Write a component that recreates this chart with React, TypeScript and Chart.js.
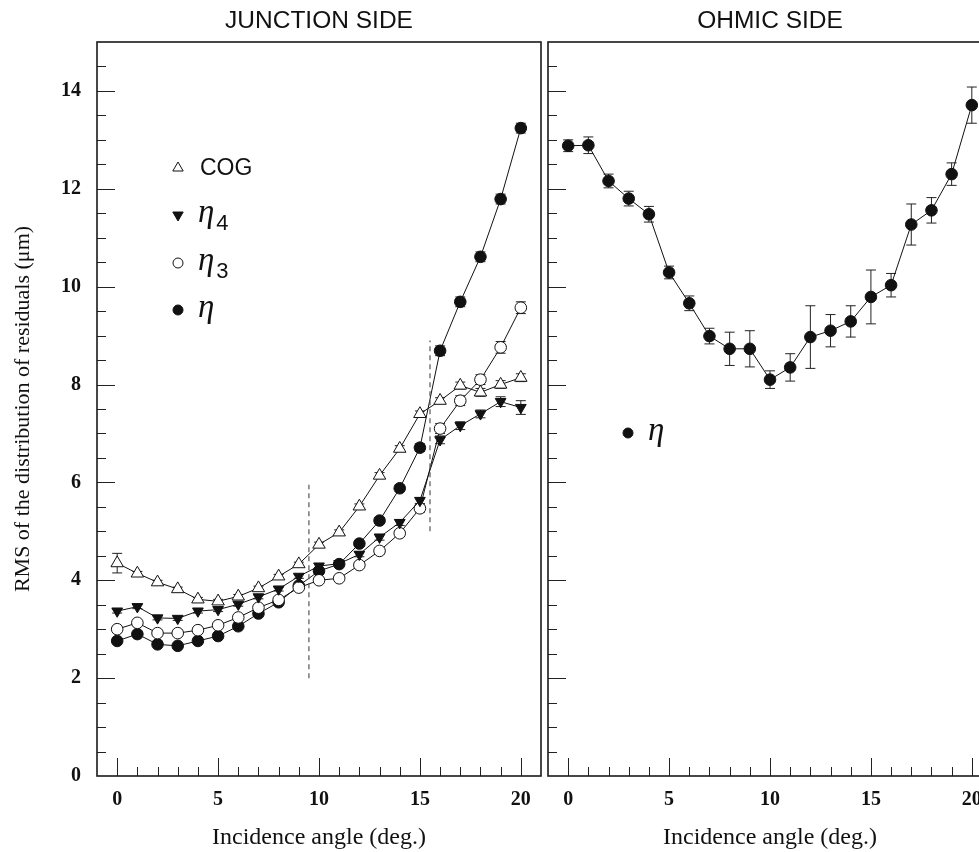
import React, { useEffect, useRef } from "react";
import { Chart, registerables } from "chart.js";

Chart.register(...registerables);

// ---------- data ----------
const angles = [0, 1, 2, 3, 4, 5, 6, 7, 8, 9, 10, 11, 12, 13, 14, 15, 16, 17, 18, 19, 20];

// Junction side
const cogRms = [4.35, 4.14, 3.96, 3.82, 3.61, 3.57, 3.67, 3.84, 4.08, 4.33, 4.73, 4.98, 5.51, 6.14, 6.69, 7.40, 7.67, 7.98, 7.84, 8.00, 8.14];
const cogErr = [0.2, 0.04, 0.04, 0.04, 0.04, 0.04, 0.04, 0.04, 0.04, 0.04, 0.05, 0.05, 0.05, 0.06, 0.06, 0.06, 0.06, 0.07, 0.08, 0.08, 0.08];
const eta4Rms = [3.37, 3.46, 3.23, 3.22, 3.37, 3.40, 3.51, 3.66, 3.82, 4.08, 4.29, 4.34, 4.53, 4.88, 5.18, 5.63, 6.87, 7.16, 7.40, 7.65, 7.53];
const eta4Err = [0.04, 0.04, 0.04, 0.04, 0.04, 0.04, 0.04, 0.04, 0.04, 0.04, 0.05, 0.05, 0.05, 0.06, 0.06, 0.06, 0.08, 0.08, 0.08, 0.1, 0.14];
const eta3Rms = [3.0, 3.13, 2.92, 2.92, 2.98, 3.08, 3.24, 3.44, 3.60, 3.85, 4.00, 4.04, 4.31, 4.60, 4.96, 5.47, 7.10, 7.67, 8.10, 8.76, 9.57];
const eta3Err = [0.04, 0.04, 0.04, 0.04, 0.04, 0.04, 0.04, 0.04, 0.04, 0.04, 0.05, 0.05, 0.05, 0.06, 0.06, 0.08, 0.1, 0.1, 0.1, 0.12, 0.12];
const etaRms = [2.76, 2.90, 2.69, 2.66, 2.76, 2.86, 3.06, 3.32, 3.55, 3.89, 4.19, 4.33, 4.75, 5.22, 5.88, 6.71, 8.69, 9.69, 10.61, 11.79, 13.24];
const etaErr = [0.04, 0.04, 0.04, 0.04, 0.04, 0.04, 0.04, 0.04, 0.04, 0.04, 0.05, 0.05, 0.05, 0.06, 0.06, 0.08, 0.1, 0.1, 0.1, 0.1, 0.1];

// Ohmic side
const ohmicEtaRms = [12.88, 12.89, 12.16, 11.80, 11.48, 10.29, 9.66, 8.99, 8.73, 8.73, 8.10, 8.35, 8.97, 9.10, 9.29, 9.79, 10.03, 11.27, 11.56, 12.30, 13.71];
const ohmicEtaErr = [0.12, 0.17, 0.14, 0.15, 0.16, 0.13, 0.15, 0.16, 0.34, 0.37, 0.18, 0.28, 0.64, 0.33, 0.32, 0.55, 0.24, 0.42, 0.26, 0.23, 0.37];

// Dashed region separators (junction side)
const cutLineA = [{ x: 9.5, y: 2.0 }, { x: 9.5, y: 5.95 }];
const cutLineB = [{ x: 15.5, y: 5.0 }, { x: 15.5, y: 8.9 }];

// Axes
const xRange = [-1, 21];
const yRange = [0, 15];
const xTickValues = [0, 5, 10, 15, 20];
const yTickValues = [0, 2, 4, 6, 8, 10, 12, 14];
const xMinorStep = 1;
const yMinorStep = 0.5;

const panelTitles = ["JUNCTION SIDE", "OHMIC SIDE"];
const xTitle = "Incidence angle (deg.)";
const yTitle = "RMS of the distribution of residuals (μm)";

// ---------- helpers ----------
const pts = (vals: number[]) => angles.map((a, i) => ({ x: a, y: vals[i] }));

const INK = "#111";

function drawMarker(ctx: CanvasRenderingContext2D, kind: string, x: number, y: number, r: number) {
  ctx.save();
  ctx.lineWidth = 1;
  ctx.strokeStyle = INK;
  ctx.beginPath();
  if (kind === "triOpen" || kind === "triDown") {
    const dir = kind === "triDown" ? -1 : 1;
    for (let k = 0; k < 3; k++) {
      const ang = (k * 2 * Math.PI) / 3;
      const px = x + Math.sin(ang) * r;
      const py = y - dir * Math.cos(ang) * r;
      if (k === 0) ctx.moveTo(px, py);
      else ctx.lineTo(px, py);
    }
    ctx.closePath();
  } else {
    ctx.arc(x, y, r, 0, Math.PI * 2);
  }
  ctx.fillStyle = kind === "triOpen" || kind === "circOpen" ? "#fff" : INK;
  ctx.fill();
  ctx.stroke();
  ctx.restore();
}

const errorBarPlugin = {
  id: "errorBars",
  beforeDatasetsDraw(chart: any) {
    const { ctx } = chart;
    const xs = chart.scales.x;
    const ys = chart.scales.y;
    chart.data.datasets.forEach((ds: any) => {
      const errs: number[] | undefined = ds.errors;
      if (!errs) return;
      ctx.save();
      ctx.strokeStyle = "#222";
      ctx.lineWidth = 1;
      ds.data.forEach((p: any, j: number) => {
        const e = errs[j];
        if (!e) return;
        const px = xs.getPixelForValue(p.x);
        const top = ys.getPixelForValue(p.y + e);
        const bot = ys.getPixelForValue(p.y - e);
        ctx.beginPath();
        ctx.moveTo(px, top);
        ctx.lineTo(px, bot);
        ctx.moveTo(px - 5, top);
        ctx.lineTo(px + 5, top);
        ctx.moveTo(px - 5, bot);
        ctx.lineTo(px + 5, bot);
        ctx.stroke();
      });
      ctx.restore();
    });
  },
};

const frameTicksPlugin = {
  id: "frameTicks",
  afterDraw(chart: any) {
    const { ctx, chartArea: a } = chart;
    const xs = chart.scales.x;
    const ys = chart.scales.y;
    ctx.save();
    ctx.strokeStyle = "#222";
    ctx.lineWidth = 1;
    const xFirst = xTickValues[0];
    const xLast = xTickValues[xTickValues.length - 1];
    const xMajor = xTickValues[1] - xTickValues[0];
    for (let v = xFirst; v <= xLast + 1e-9; v += xMinorStep) {
      const px = Math.round(xs.getPixelForValue(v)) + 0.5;
      const major = Math.abs(v / xMajor - Math.round(v / xMajor)) < 1e-6;
      const len = major ? 18 : 9;
      ctx.beginPath();
      ctx.moveTo(px, a.bottom);
      ctx.lineTo(px, a.bottom - len);
      ctx.stroke();
    }
    const yMajor = yTickValues[1] - yTickValues[0];
    for (let v = yRange[0] + yMinorStep; v < yRange[1] - 1e-9; v += yMinorStep) {
      const py = Math.round(ys.getPixelForValue(v)) + 0.5;
      const major = Math.abs(v / yMajor - Math.round(v / yMajor)) < 1e-6;
      const len = major ? 18 : 9;
      ctx.beginPath();
      ctx.moveTo(a.left, py);
      ctx.lineTo(a.left + len, py);
      ctx.stroke();
    }
    ctx.lineWidth = 1.6;
    ctx.strokeStyle = "#1a1a1a";
    ctx.strokeRect(a.left, a.top, a.right - a.left, a.bottom - a.top);
    ctx.restore();
  },
};

const markerLegendPlugin = {
  id: "markerLegend",
  afterDraw(chart: any, _args: any, opts: any) {
    const items = opts && opts.items;
    if (!items) return;
    const { ctx } = chart;
    items.forEach((it: any) => {
      drawMarker(ctx, it.marker, it.x, it.y, it.r);
      ctx.save();
      ctx.fillStyle = INK;
      ctx.textAlign = "left";
      if (it.greek) {
        ctx.font = 'italic 33px "Liberation Serif"';
        ctx.textBaseline = "alphabetic";
        ctx.fillText(it.label, it.x + 20, it.y + 7);
        const w = ctx.measureText(it.label).width;
        if (it.sub) {
          ctx.font = '22px "Liberation Sans"';
          ctx.fillText(it.sub, it.x + 22 + w, it.y + 15);
        }
      } else {
        ctx.font = '23px "Liberation Sans"';
        ctx.textBaseline = "middle";
        ctx.fillText(it.label, it.x + 22, it.y + 1);
      }
      ctx.restore();
    });
  },
};

function seriesDataset(values: number[], errors: number[], style: string, rotation: number, filled: boolean, radius: number) {
  return {
    data: pts(values),
    errors,
    showLine: true,
    borderColor: INK,
    borderWidth: 1,
    tension: 0,
    pointStyle: style,
    pointRotation: rotation,
    pointRadius: radius,
    pointBackgroundColor: filled ? INK : "#fff",
    pointBorderColor: INK,
    pointBorderWidth: 1,
  } as any;
}

function dashedDataset(points: { x: number; y: number }[]) {
  return {
    data: points,
    showLine: true,
    borderColor: "#555",
    borderWidth: 1.2,
    borderDash: [5, 4],
    pointRadius: 0,
  } as any;
}

function zeroPadding(s: any) {
  s.paddingLeft = 0;
  s.paddingRight = 0;
  s.paddingTop = 0;
  s.paddingBottom = 0;
}

function makeOptions(isLeft: boolean, legendItems: any[]) {
  const tickFont = { family: '"Liberation Serif", serif', size: 20, weight: "bold" as const };
  const titleFont = { family: '"Liberation Serif", serif', size: 24, weight: "normal" as const };
  return {
    responsive: false,
    animation: false as const,
    layout: { autoPadding: false, padding: { left: 0, right: 4, top: 0, bottom: 0 } },
    plugins: {
      legend: { display: false },
      tooltip: { enabled: false },
      title: {
        display: true,
        text: isLeft ? panelTitles[0] : panelTitles[1],
        fullSize: false,
        color: INK,
        font: { family: '"Liberation Sans", sans-serif', size: 24.5, weight: "normal" as const },
        padding: { top: 7, bottom: 5.6 },
      },
      markerLegend: { items: legendItems },
    },
    scales: {
      x: {
        type: "linear" as const,
        min: xRange[0],
        max: xRange[1],
        afterFit: (s: any) => {
          s.height = 76;
          zeroPadding(s);
        },
        afterBuildTicks: (s: any) => {
          s.ticks = xTickValues.map((v) => ({ value: v }));
        },
        grid: { display: false, drawTicks: false },
        border: { display: false },
        ticks: {
          padding: 12,
          color: INK,
          font: tickFont,
          maxRotation: 0,
          autoSkip: false,
          callback: (v: any) => String(v),
        },
        title: {
          display: true,
          text: xTitle,
          color: INK,
          font: titleFont,
          padding: { top: 0, bottom: 0 },
        },
      },
      y: {
        type: "linear" as const,
        min: yRange[0],
        max: yRange[1],
        afterFit: (s: any) => {
          s.width = isLeft ? 97 : 3;
          zeroPadding(s);
        },
        afterBuildTicks: (s: any) => {
          s.ticks = yTickValues.map((v) => ({ value: v }));
        },
        grid: { display: false, drawTicks: false },
        border: { display: false },
        ticks: {
          display: isLeft,
          padding: 16,
          color: INK,
          font: tickFont,
          callback: (v: any) => String(v),
        },
        title: {
          display: isLeft,
          text: yTitle,
          color: INK,
          font: { family: '"Liberation Serif", serif', size: 22, weight: "normal" as const },
          padding: { top: 10, bottom: 0 },
        },
      },
    },
  } as any;
}

export default function App() {
  const leftRef = useRef<HTMLCanvasElement>(null);
  const rightRef = useRef<HTMLCanvasElement>(null);

  useEffect(() => {
    const leftLegend = [
      { marker: "triOpen", x: 178, y: 168, r: 6, label: "COG" },
      { marker: "triDown", x: 178, y: 215, r: 6, label: "η", sub: "4", greek: true },
      { marker: "circOpen", x: 178, y: 263, r: 5, label: "η", sub: "3", greek: true },
      { marker: "circFill", x: 178, y: 310, r: 5, label: "η", greek: true },
    ];
    const rightLegend = [{ marker: "circFill", x: 83, y: 433, r: 5, label: "η", greek: true }];

    const left = new Chart(leftRef.current as HTMLCanvasElement, {
      type: "scatter",
      data: {
        datasets: [
          dashedDataset(cutLineA),
          dashedDataset(cutLineB),
          seriesDataset(cogRms, cogErr, "triangle", 0, false, 7.2),
          seriesDataset(eta4Rms, eta4Err, "triangle", 180, true, 6.2),
          seriesDataset(eta3Rms, eta3Err, "circle", 0, false, 5.8),
          seriesDataset(etaRms, etaErr, "circle", 0, true, 5.8),
        ],
      },
      options: makeOptions(true, leftLegend),
      plugins: [errorBarPlugin, frameTicksPlugin, markerLegendPlugin],
    });

    const right = new Chart(rightRef.current as HTMLCanvasElement, {
      type: "scatter",
      data: {
        datasets: [seriesDataset(ohmicEtaRms, ohmicEtaErr, "circle", 0, true, 5.8)],
      },
      options: makeOptions(false, rightLegend),
      plugins: [errorBarPlugin, frameTicksPlugin, markerLegendPlugin],
    });

    return () => {
      left.destroy();
      right.destroy();
    };
  }, []);

  return (
    <div
      style={{
        position: "fixed",
        left: 0,
        top: 0,
        width: 979,
        height: 852,
        overflow: "hidden",
        background: "#fff",
      }}
    >
      <canvas
        ref={leftRef}
        width={545}
        height={852}
        style={{ position: "absolute", left: 0, top: 0, display: "block" }}
      />
      <canvas
        ref={rightRef}
        width={451}
        height={852}
        style={{ position: "absolute", left: 545, top: 0, display: "block" }}
      />
    </div>
  );
}
